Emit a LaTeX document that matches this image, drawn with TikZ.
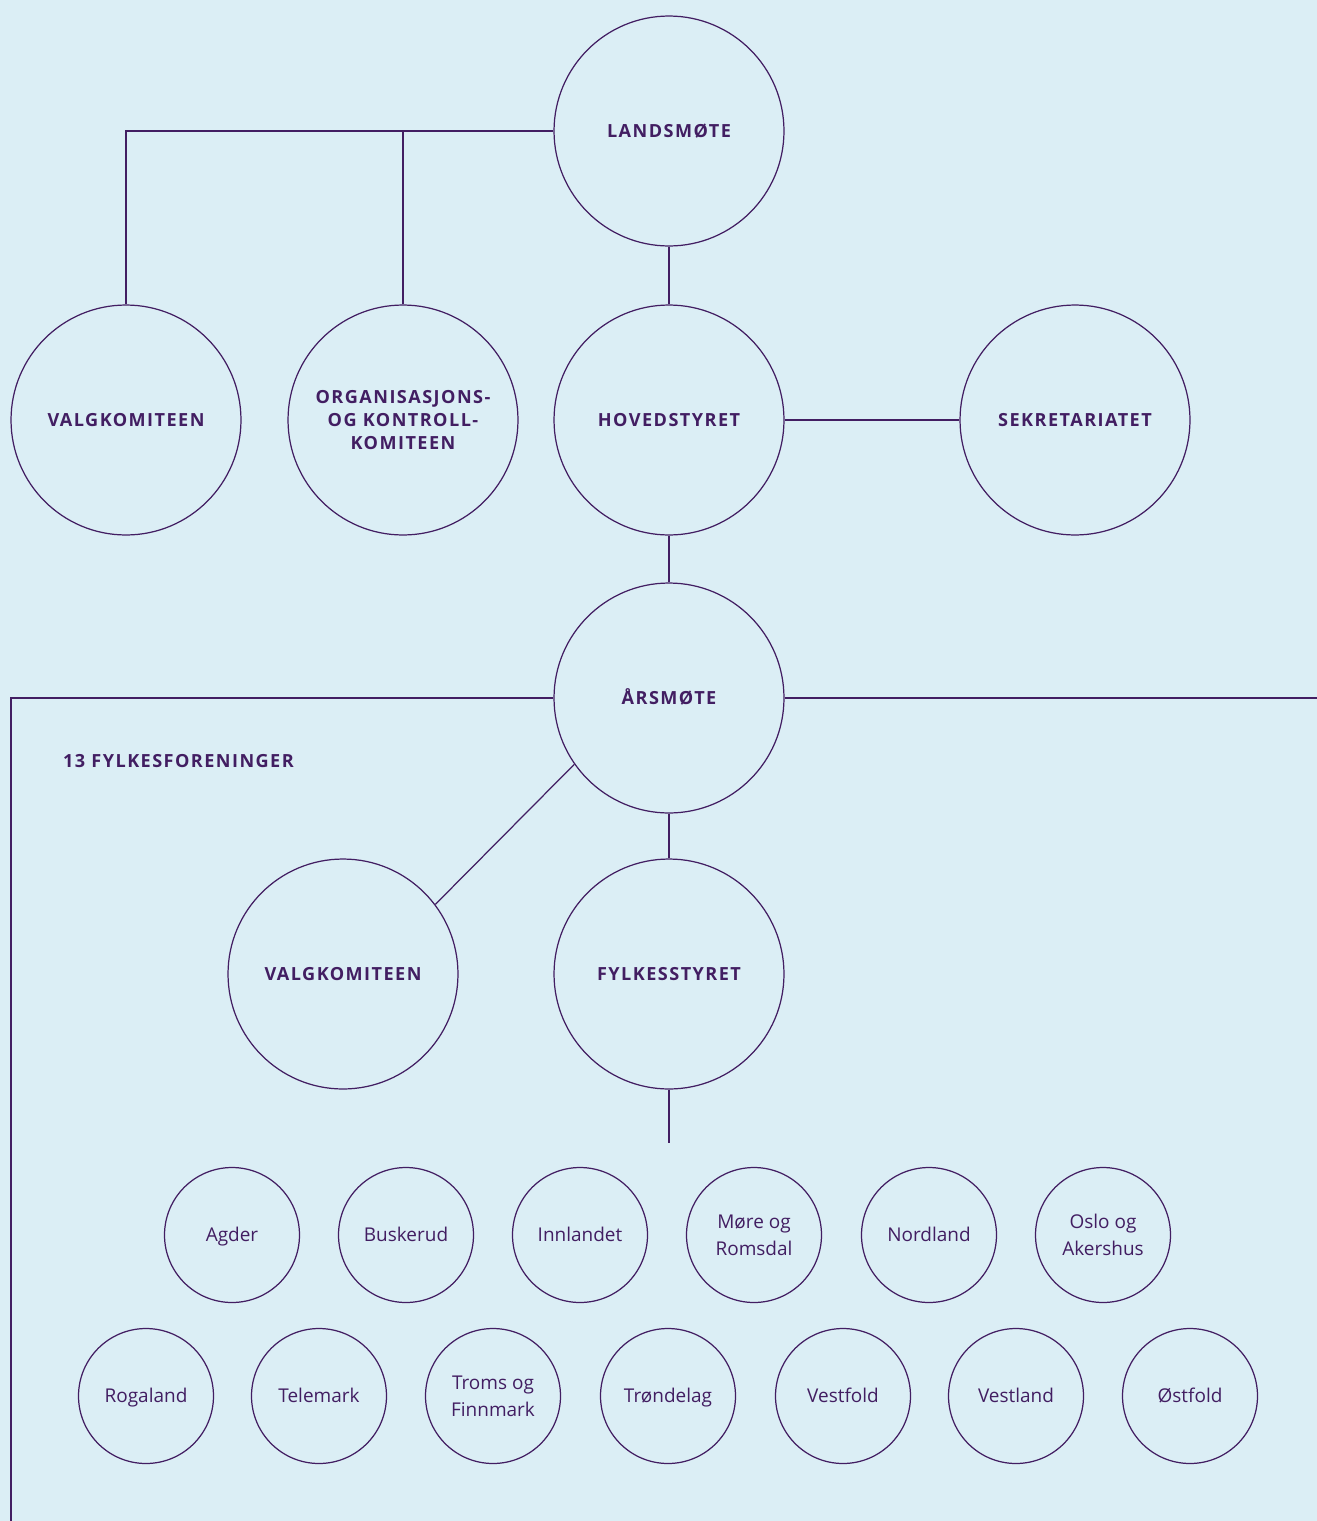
\documentclass[tikz,border=0pt]{standalone}
\usepackage{fontspec}
\setmainfont{Open Sans}
\newfontfamily\orgcaps[LetterSpace=8]{Open Sans}
\definecolor{orgpurple}{RGB}{66,30,98}
\definecolor{orgsky}{RGB}{219,238,245}
\usetikzlibrary{positioning}

\begin{document}
\begin{tikzpicture}[x=0.02cm,y=-0.02cm,
  bigunit/.style={circle,draw=orgpurple,line width=0.7pt,minimum size=4.6cm,inner sep=0pt,align=center,text=orgpurple,font=\orgcaps\bfseries\fontsize{10.3}{13}\selectfont},
  county/.style={circle,draw=orgpurple,line width=0.7pt,minimum size=2.7cm,inner sep=0pt,align=center,text=orgpurple,font=\fontsize{10.8}{15.3}\selectfont},
  oneline/.style={text height=0.72em,text depth=0pt},
  link/.style={draw=orgpurple,line width=0.7pt}]
  \path[use as bounding box,fill=orgsky] (0,0) rectangle (1317,1521);
  % national level
  \node[bigunit,oneline] (lands) at (669,131) {LANDSMØTE};
  \node[bigunit,oneline] (valg) at (126,420) {VALGKOMITEEN};
  \node[bigunit] (org) at (403,420) {ORGANISASJONS-\\OG KONTROLL-\\KOMITEEN};
  \node[bigunit,oneline] (hoved) at (669,420) {HOVEDSTYRET};
  \node[bigunit,oneline] (sekr) at (1075,420) {SEKRETARIATET};
  \draw[link] (lands.west) -| (valg.north);
  \draw[link] (org.north) -- (org.north |- lands.west);
  \draw[link] (lands.south) -- (hoved.north);
  \draw[link] (hoved.east) -- (sekr.west);
  % county level
  \node[bigunit,oneline] (ars) at (669,698) {ÅRSMØTE};
  \node[bigunit,oneline] (fvalg) at (343,974) {VALGKOMITEEN};
  \node[bigunit,oneline] (fstyre) at (669,974) {FYLKESSTYRET};
  \node[anchor=west,text=orgpurple,font=\orgcaps\bfseries\fontsize{10.3}{13}\selectfont] (fylkestitle) at (57,761) {13 FYLKESFORENINGER};
  \coordinate (leftend) at (11,1521);
  \coordinate (rightend) at (1317,698);
  \coordinate (styreend) at (669,1143);
  \draw[link] (hoved.south) -- (ars.north);
  \draw[link] (ars.west) -| (leftend);
  \draw[link] (ars.east) -- (rightend);
  \draw[link] (ars.215) -- (fvalg.37);
  \draw[link] (ars.south) -- (fstyre.north);
  \draw[link] (fstyre.south) -- (styreend);
  \node[county,oneline] (agder) at (232,1235) {Agder};
  \node[county,oneline] (buskerud) at (406,1235) {Buskerud};
  \node[county,oneline] (innlandet) at (580,1235) {Innlandet};
  \node[county] (more) at (754,1235) {Møre og\\Romsdal};
  \node[county,oneline] (nordland) at (929,1235) {Nordland};
  \node[county] (oslo) at (1103,1235) {Oslo og\\Akershus};
  \node[county,oneline] (rogaland) at (146,1396) {Rogaland};
  \node[county,oneline] (telemark) at (319,1396) {Telemark};
  \node[county] (troms) at (493,1396) {Troms og\\Finnmark};
  \node[county,oneline] (trondelag) at (668,1396) {Trøndelag};
  \node[county,oneline] (vestfold) at (843,1396) {Vestfold};
  \node[county,oneline] (vestland) at (1016,1396) {Vestland};
  \node[county,oneline] (ostfold) at (1190,1396) {Østfold};
\end{tikzpicture}
\end{document}
